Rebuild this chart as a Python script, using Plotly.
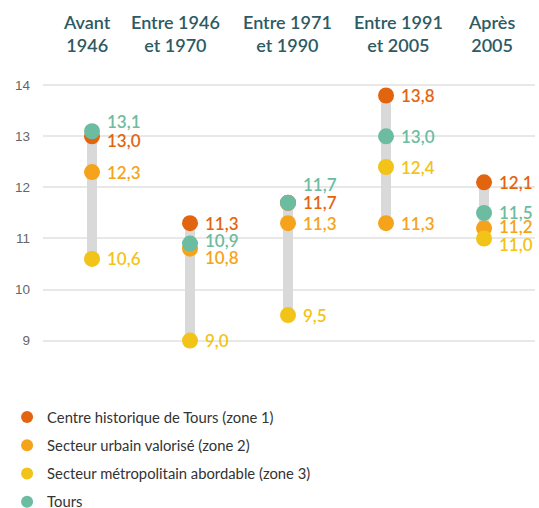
import plotly.graph_objects as go

categories = ["Avant<br>1946", "Entre 1946<br>et 1970", "Entre 1971<br>et 1990", "Entre 1991<br>et 2005", "Après<br>2005"]
zone1 = [13.0, 11.3, 11.7, 13.8, 12.1]
zone2 = [12.3, 10.8, 11.3, 11.3, 11.2]
zone3 = [10.6, 9.0, 9.5, 12.4, 11.0]
tours = [13.1, 10.9, 11.7, 13.0, 11.5]
series_names = ["Centre historique de Tours (zone 1)", "Secteur urbain valorisé (zone 2)",
                "Secteur métropolitain abordable (zone 3)", "Tours"]
y_ticks = [9, 10, 11, 12, 13, 14]

colors = ["#e3640f", "#f5a31a", "#f2c318", "#6bbca0"]
# label vertical nudges (px) to avoid overlap, per series per category
label_shift = [
    [-4, 0, 0, 0, 0],
    [0, -9, 0, 0, 2],
    [0, 0, 0, 0, -6],
    [10, 3, 18, 0, 0],
]
# horizontal nudges (px) of the column headers
header_shift = [-5, -15, -1, 12, 7]

series = [zone1, zone2, zone3, tours]
lows = [min(v) for v in zip(*series)]
highs = [max(v) for v in zip(*series)]

fig = go.Figure()
fig.add_trace(go.Bar(x=categories, y=[h - l for h, l in zip(highs, lows)], base=lows,
                     width=0.1, marker=dict(color="#d9d9d9", line=dict(width=0)),
                     showlegend=False, hoverinfo="skip"))
for i, (name, vals) in enumerate(zip(series_names, series)):
    fig.add_trace(go.Scatter(x=categories, y=vals, mode="markers", name=name,
                             legendgroup=name,
                             marker=dict(color=colors[i], size=16, line=dict(width=0))))
    for j, v in enumerate(vals):
        fig.add_annotation(x=categories[j], y=v, text=f"{v:.1f}".replace(".", ","),
                           showarrow=False, xanchor="left", yanchor="middle",
                           xshift=13, yshift=label_shift[i][j],
                           font=dict(family="Lato", size=17, color=colors[i], weight=600))

for j, c in enumerate(categories):
    fig.add_annotation(x=c, y=1, xref="x", yref="paper", text=c, showarrow=False,
                       xanchor="center", yanchor="middle", xshift=header_shift[j], yshift=37,
                       font=dict(family="Lato", size=18, color="#2d5a63", weight=600))

fig.update_layout(
    width=539, height=508,
    margin=dict(l=43, r=4, t=70, b=146.5, autoexpand=False),
    plot_bgcolor="white", paper_bgcolor="white",
    showlegend=True,
    legend=dict(x=-0.073, y=-0.137, xanchor="left", yanchor="top", orientation="v",
                font=dict(family="Lato", size=14.8, color="#333333"),
                tracegroupgap=6, itemsizing="constant"),
    xaxis=dict(side="top", range=[-0.5, 4.52], showgrid=False, showline=False, ticks="",
               automargin=False, showticklabels=False, fixedrange=True),
    yaxis=dict(range=[8.6, 14.3], tickvals=y_ticks, showgrid=True, gridcolor="#e8e8e8",
               gridwidth=1.5, zeroline=False, showline=False, ticks="", automargin=False,
               tickfont=dict(family="Liberation Sans", size=13.5, color="#666666"), ticklabelstandoff=12),
    bargap=0,
)
fig.write_html("out.html", config={"displayModeBar": False},
               post_script="document.body.style.margin='0';document.body.style.overflow='hidden';")
